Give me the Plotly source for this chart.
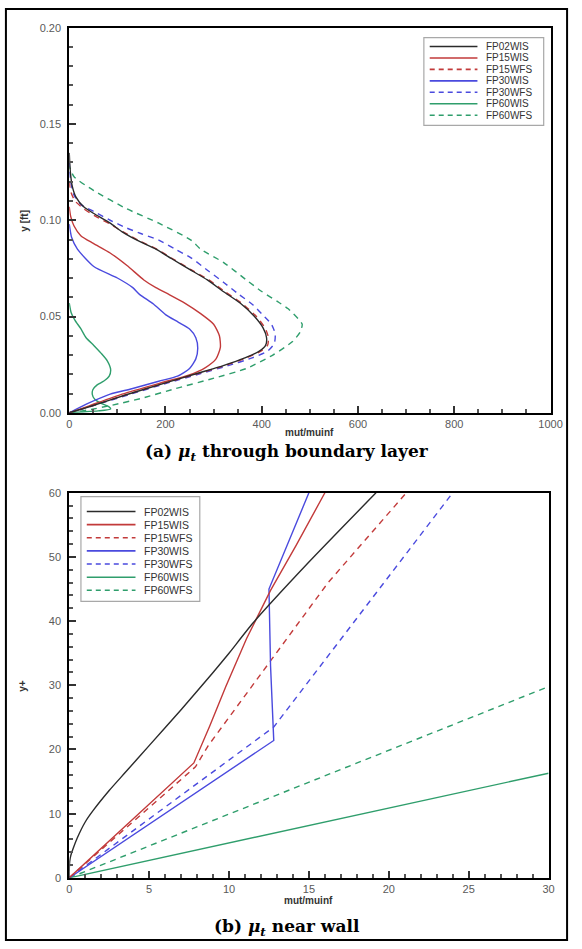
import plotly.graph_objects as go

W, H = 582, 949

# ---- series definitions -------------------------------------------------
names = ["FP02WIS", "FP15WIS", "FP15WFS", "FP30WIS", "FP30WFS", "FP60WIS", "FP60WFS"]
colors = ["#2b2b2b", "#c23a3a", "#c23a3a", "#4a4ade", "#4a4ade", "#2f9e6c", "#2f9e6c"]
dashes = ["solid", "solid", "6px,5px", "solid", "6px,5px", "solid", "6px,5px"]

# ---- (a) mut/muinf through the boundary layer, y in ft --------------------
bl_fp02wis_x = [0, 40, 120, 200, 260, 320, 365, 395, 408, 410, 403, 385, 355, 320, 287, 250, 213, 180, 146, 110, 85, 51, 30, 14, 6, 2, 0]
bl_fp02wis_y = [0, 0.003, 0.0095, 0.0155, 0.020, 0.0245, 0.0285, 0.032, 0.035, 0.039, 0.044, 0.050, 0.057, 0.063, 0.069, 0.0745, 0.080, 0.085, 0.089, 0.094, 0.0985, 0.1035, 0.107, 0.112, 0.118, 0.126, 0.135]

bl_fp15wis_x = [0, 40, 110, 190, 248, 283, 305, 314, 312, 300, 273, 240, 207, 180, 155, 120, 85, 50, 24, 10, 3, 0]
bl_fp15wis_y = [0, 0.0035, 0.0097, 0.0155, 0.0195, 0.0235, 0.028, 0.034, 0.040, 0.046, 0.0515, 0.057, 0.0615, 0.065, 0.069, 0.0765, 0.083, 0.088, 0.092, 0.097, 0.102, 0.107]

bl_fp15wfs_x = [0, 40, 120, 200, 262, 323, 368, 398, 412, 414, 407, 389, 358, 323, 290, 252, 215, 182, 148, 112, 85, 55, 30, 12, 3, 0]
bl_fp15wfs_y = [0, 0.003, 0.0095, 0.0155, 0.020, 0.0245, 0.0285, 0.032, 0.035, 0.039, 0.044, 0.050, 0.057, 0.063, 0.069, 0.0745, 0.080, 0.085, 0.089, 0.094, 0.098, 0.102, 0.106, 0.110, 0.115, 0.120]

bl_fp30wis_x = [0, 40, 85, 130, 186, 225, 250, 263, 267, 263, 250, 227, 200, 175, 146, 132, 100, 51, 17, 5, 0]
bl_fp30wis_y = [0, 0.005, 0.0097, 0.0125, 0.0164, 0.019, 0.023, 0.028, 0.0335, 0.039, 0.0435, 0.047, 0.051, 0.0565, 0.0615, 0.065, 0.070, 0.076, 0.085, 0.091, 0.098]

bl_fp30wfs_x = [0, 40, 125, 205, 268, 330, 380, 412, 426, 428, 420, 402, 382, 350, 321, 290, 253, 220, 186, 150, 119, 85, 51, 25, 10, 3, 0]
bl_fp30wfs_y = [0, 0.003, 0.0095, 0.0155, 0.020, 0.0245, 0.0285, 0.032, 0.036, 0.041, 0.046, 0.0508, 0.056, 0.062, 0.0677, 0.0735, 0.0805, 0.085, 0.0897, 0.093, 0.096, 0.100, 0.1046, 0.108, 0.113, 0.120, 0.130]

bl_fp60wis_x = [0, 4, 12, 24, 35, 51, 66, 79, 86, 83, 72, 58, 49, 48, 53, 65, 82, 86, 60, 25, 0]
bl_fp60wis_y = [0.057, 0.052, 0.048, 0.0437, 0.039, 0.035, 0.031, 0.027, 0.0225, 0.019, 0.0165, 0.0145, 0.012, 0.0095, 0.007, 0.005, 0.0032, 0.002, 0.001, 0.0004, 0]

bl_fp60wfs_x = [0, 40, 90, 150, 220, 301, 368, 423, 464, 480, 484, 476, 455, 435, 400, 368, 321, 273, 253, 186, 119, 51, 10, 0]
bl_fp60wfs_y = [0, 0.0015, 0.004, 0.0075, 0.0125, 0.018, 0.023, 0.030, 0.037, 0.042, 0.046, 0.0487, 0.054, 0.0574, 0.063, 0.069, 0.078, 0.085, 0.0897, 0.0985, 0.106, 0.1154, 0.1226, 0.128]

# ---- (b) mut/muinf near the wall, y+ -------------------------------------
nw_fp02wis_x = [0, 0.005, 0.03, 0.1, 0.25, 0.5, 1, 1.5, 2.5, 3.5, 5, 7, 9, 10, 11.5, 15, 19.2]
nw_fp02wis_y = [0, 1.5, 2.6, 3.5, 4.6, 6.2, 8.7, 10.5, 13.6, 16.4, 20.6, 26.2, 32.0, 35.0, 39.7, 49.2, 60]

nw_fp15wis_x = [0, 7.8, 8.8, 9.8, 11.1, 12.6, 14.2, 16.0]
nw_fp15wis_y = [0, 17.9, 23.7, 29.8, 37.3, 44.8, 51.8, 60]

nw_fp15wfs_x = [0, 7.9, 8.7, 13.1, 16.2, 21.1]
nw_fp15wfs_y = [0, 17.3, 20.6, 35.6, 46.0, 60]

nw_fp30wis_x = [0, 12.8, 12.6, 12.5, 15.0]
nw_fp30wis_y = [0, 21.4, 33.0, 45.0, 60]

nw_fp30wfs_x = [0, 12.8, 24.0]
nw_fp30wfs_y = [0, 23.5, 60]

nw_fp60wis_x = [0, 30]
nw_fp60wis_y = [0, 16.3]

nw_fp60wfs_x = [0, 30]
nw_fp60wfs_y = [0, 29.8]

bl_x = [bl_fp02wis_x, bl_fp15wis_x, bl_fp15wfs_x, bl_fp30wis_x, bl_fp30wfs_x, bl_fp60wis_x, bl_fp60wfs_x]
bl_y = [bl_fp02wis_y, bl_fp15wis_y, bl_fp15wfs_y, bl_fp30wis_y, bl_fp30wfs_y, bl_fp60wis_y, bl_fp60wfs_y]
nw_x = [nw_fp02wis_x, nw_fp15wis_x, nw_fp15wfs_x, nw_fp30wis_x, nw_fp30wfs_x, nw_fp60wis_x, nw_fp60wfs_x]
nw_y = [nw_fp02wis_y, nw_fp15wis_y, nw_fp15wfs_y, nw_fp30wis_y, nw_fp30wfs_y, nw_fp60wis_y, nw_fp60wfs_y]

# draw order: dashed lines underneath solid ones
order = [6, 4, 2, 5, 3, 1, 0]

fig = go.Figure()
for i in order:
    fig.add_trace(go.Scatter(
        x=bl_x[i], y=bl_y[i], mode="lines", name=names[i], showlegend=False,
        line=dict(color=colors[i], width=1.4, dash=dashes[i], shape="spline", smoothing=0.6),
        xaxis="x", yaxis="y"))
for i in order:
    # the smooth wall-function profile is splined, the piecewise ones stay straight
    shape = "spline" if i == 0 else "linear"
    fig.add_trace(go.Scatter(
        x=nw_x[i], y=nw_y[i], mode="lines", name=names[i], showlegend=False,
        line=dict(color=colors[i], width=1.4, dash=dashes[i], shape=shape, smoothing=0.6),
        xaxis="x2", yaxis="y2"))


def px(x):
    return x / W


def py(y):
    return 1 - y / H


tick_font = dict(family="Liberation Sans, Arial, sans-serif", size=11, color="#5a5a5a")
axis_common = dict(
    showline=True, linecolor="black", linewidth=2, mirror=True,
    ticks="inside", ticklen=7, tickwidth=1.5, tickcolor="#333",
    showgrid=False, zeroline=False, tickfont=tick_font,
)

fig.update_layout(
    width=W, height=H,
    margin=dict(l=0, r=0, t=0, b=0),
    paper_bgcolor="white", plot_bgcolor="white",
    showlegend=False,
    xaxis=dict(domain=[px(68), px(562)], anchor="y", range=[0, 1000], dtick=200,
               tickformat="d", minor=dict(ticks="inside", ticklen=4, dtick=50, tickcolor="#555"),
               **axis_common),
    yaxis=dict(domain=[py(412), py(22)], anchor="x", range=[0, 0.2], dtick=0.05,
               tickformat=".2f", minor=dict(ticks="inside", ticklen=4, dtick=0.01, tickcolor="#555"),
               ticklabelstandoff=4, **axis_common),
    xaxis2=dict(domain=[px(68), px(560)], anchor="y2", range=[0, 30], dtick=5,
                minor=dict(ticks="inside", ticklen=4, dtick=1, tickcolor="#555"),
                **axis_common),
    yaxis2=dict(domain=[py(883), py(493)], anchor="x2", range=[0, 60], dtick=10,
                minor=dict(ticks="inside", ticklen=4, dtick=2, tickcolor="#555"),
                ticklabelstandoff=4, **axis_common),
)

title_font = dict(family="Liberation Sans, Arial, sans-serif", size=10, color="#333")
cap_font = dict(family="DejaVu Serif, Liberation Serif, serif", size=17, color="black")

annotations = [
    dict(text="<b>y [ft]</b>", x=px(22), y=py(217), textangle=-90, font=title_font),
    dict(text="<b>mut/muinf</b>", x=px(315), y=py(432), font=title_font),
    dict(text="<b>y+</b>", x=px(20), y=py(688), textangle=-90, font=title_font),
    dict(text="<b>mut/muinf</b>", x=px(314), y=py(906), font=title_font),
    dict(text="<b>(a) <i>\u03bc<sub>t</sub></i> through boundary layer</b>", x=px(292), y=py(452), font=cap_font),
    dict(text="<b>(b) <i>\u03bc<sub>t</sub></i> near wall</b>", x=px(292), y=py(933), font=cap_font),
]
shapes = [
    dict(type="rect", xref="paper", yref="paper", x0=px(3), x1=px(579), y0=py(946), y1=py(3),
         line=dict(color="black", width=2), layer="above"),
]


def add_legend(box, line_x0, line_x1, text_x, y0, step, fsize):
    x0, y_top, x1, y_bot = box
    font = dict(family="Liberation Sans, Arial, sans-serif", size=fsize, color="#333")
    shapes.append(dict(type="rect", xref="paper", yref="paper",
                       x0=px(x0), x1=px(x1), y0=py(y_bot), y1=py(y_top),
                       line=dict(color="#a8a8a8", width=1.2), fillcolor="white", layer="above"))
    for k, nm in enumerate(names):
        yy = y0 + k * step
        shapes.append(dict(type="line", xref="paper", yref="paper",
                           x0=px(line_x0), x1=px(line_x1), y0=py(yy), y1=py(yy),
                           line=dict(color=colors[k], width=1.6,
                                     dash="solid" if dashes[k] == "solid" else "5px,4px"),
                           layer="above"))
        annotations.append(dict(text=nm, x=px(text_x), y=py(yy), xanchor="left", font=font))


add_legend((432, 32, 555, 121), 438, 487, 494, 41, 11.6, 10)
add_legend((80, 497, 202, 603), 86, 136, 143, 512, 13.3, 10.5)

for a in annotations:
    a.setdefault("xref", "paper")
    a.setdefault("yref", "paper")
    a.setdefault("showarrow", False)
    a.setdefault("yanchor", "middle")
    a.setdefault("xanchor", "center")

fig.update_layout(annotations=annotations, shapes=shapes)
fig.write_html("out.html")
